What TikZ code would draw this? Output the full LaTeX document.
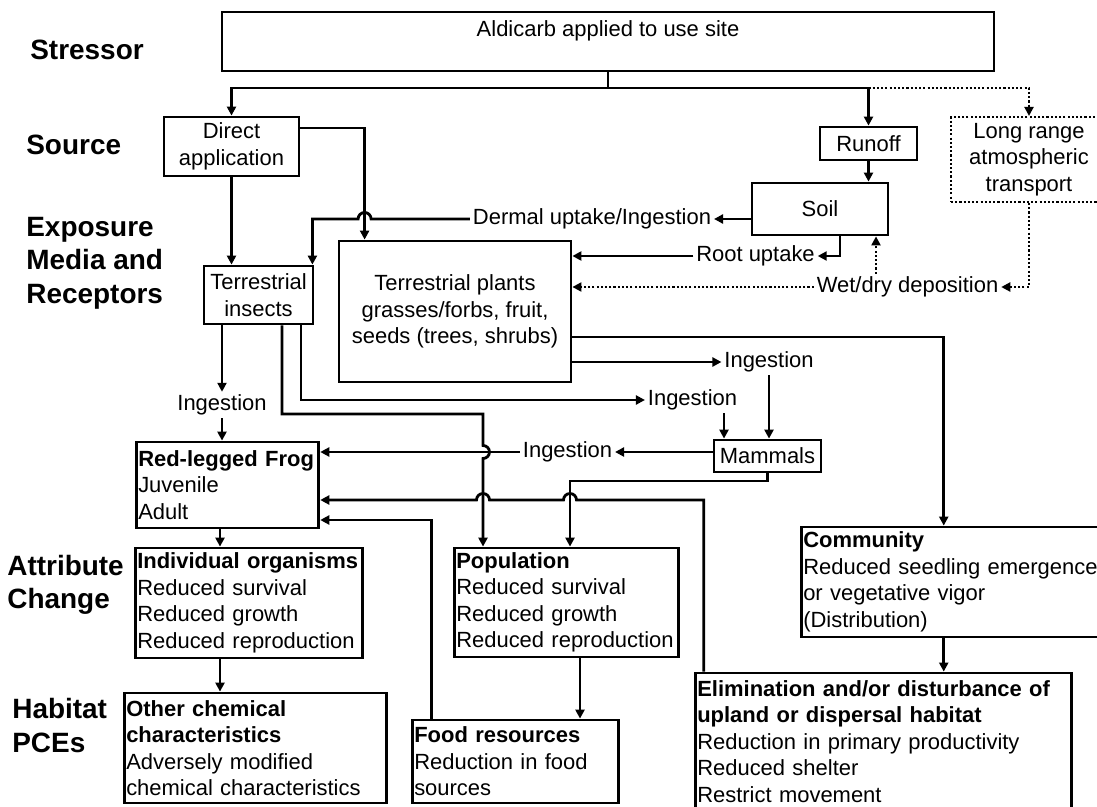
\documentclass[tikz,border=0pt]{standalone}
\usepackage{fontspec}
\setmainfont{Liberation Sans}
\usetikzlibrary{arrows.meta}
\tikzset{
  box/.style={draw, line width=1.6pt, inner xsep=1.2pt, inner ysep=1pt,
    font=\fontsize{12.5}{15.1}\selectfont, align=center},
  lbox/.style={box, align=left},
  dbox/.style={box, line width=1.2pt, dash pattern=on 1.2pt off 1.2pt},
  lab/.style={inner sep=1.5pt, font=\fontsize{12.5}{15.1}\selectfont},
  lvl/.style={inner sep=0pt, align=left, font=\fontsize{15.9}{19}\selectfont\bfseries},
  ln/.style={line width=1.6pt},
  arr/.style={line width=1.6pt, -{Triangle[length=0.18cm, width=0.18cm]}},
  dotarr/.style={line width=1.2pt, dash pattern=on 1.2pt off 1.2pt,
    -{Triangle[length=0.18cm, width=0.18cm]}}
}

\begin{document}
\begin{tikzpicture}
\useasboundingbox (0,0) rectangle (21.94,-16.14);
\clip (0,0) rectangle (21.94,-16.14);

% Level labels
\node[lvl, anchor=west] (lstress) at (0.60,-1.00) {Stressor};
\node[lvl, anchor=west] (lsource) at (0.52,-2.90) {Source};
\node[lvl, anchor=west] (lexpo) at (0.52,-5.26) {Exposure\\Media and\\Receptors};
\node[lvl, anchor=west] (lattr) at (0.14,-11.70) {Attribute\\Change};
\node[lvl, anchor=west] (lhab) at (0.24,-14.51) {Habitat\\PCEs};

% Boxes
\node[box, minimum width=15.44cm, minimum height=1.18cm] (stressor) at (12.16,-0.83)
  {Aldicarb applied to use site\\\mbox{}};
\node[box, minimum width=2.70cm, minimum height=1.18cm] (direct) at (4.63,-2.93) {Direct\\application};
\node[box, minimum width=1.94cm, minimum height=0.66cm] (runoff) at (17.37,-2.87) {Runoff};
\node[dbox, minimum width=3.12cm, minimum height=1.70cm] (longrange) at (20.58,-3.19)
  {Long range\\atmospheric\\transport};
\node[box, minimum width=2.72cm, minimum height=1.04cm] (soil) at (16.40,-4.18) {Soil};
\node[box, minimum width=2.18cm, minimum height=1.16cm] (insects) at (5.17,-5.90) {Terrestrial\\insects};
\node[box, minimum width=4.64cm, minimum height=2.82cm] (plants) at (9.10,-6.23)
  {Terrestrial plants\\grasses/forbs, fruit,\\seeds (trees, shrubs)};
\node[box, minimum width=2.14cm, minimum height=0.64cm] (mammals) at (15.35,-9.12) {Mammals};
\node[lbox, text width=3.57cm, minimum height=1.72cm] (frog) at (4.55,-9.70)
  {\textbf{Red-legged Frog}\\Juvenile\\Adult};
\node[lbox, text width=4.47cm, minimum height=2.20cm] (individual) at (4.98,-12.06)
  {\textbf{Individual organisms}\\Reduced survival\\Reduced growth\\Reduced reproduction};
\node[lbox, text width=4.41cm, minimum height=2.18cm] (population) at (11.33,-12.05)
  {\textbf{Population}\\Reduced survival\\Reduced growth\\Reduced reproduction};
\node[lbox, text width=6.31cm, minimum height=2.20cm] (community) at (19.22,-11.64)
  {\textbf{Community}\\Reduced seedling emergence\\or vegetative vigor\\(Distribution)};
\node[lbox, text width=5.17cm, minimum height=2.20cm] (otherchem) at (5.11,-14.96)
  {\textbf{Other chemical}\\\textbf{characteristics}\\Adversely modified\\chemical characteristics};
\node[lbox, text width=4.05cm, minimum height=1.66cm] (food) at (10.31,-15.23)
  {\textbf{Food resources}\\Reduction in food\\sources};
\node[lbox, text width=7.45cm, minimum height=2.74cm] (elim) at (17.67,-14.83)
  {\textbf{Elimination and/or disturbance of}\\\textbf{upland or dispersal habitat}\\Reduction in primary productivity\\Reduced shelter\\Restrict movement};

% Route labels
\node[lab] (dermal) at (11.84,-4.38) {Dermal uptake/Ingestion};
\node[lab] (root) at (15.11,-5.12) {Root uptake};
\node[lab] (wet) at (18.15,-5.74) {Wet/dry deposition};
\node[lab] (ingA) at (15.38,-7.24) {Ingestion};
\node[lab] (ingB) at (13.85,-8.00) {Ingestion};
\node[lab] (ingC) at (4.44,-8.10) {Ingestion};
\node[lab] (ingD) at (11.35,-9.04) {Ingestion};

% Helper points
\coordinate (jn) at (12.16,-1.76);
\coordinate (pv) at ([xshift=0.54cm]plants.north west);
\coordinate (dhop) at (pv |- dermal.west);
\coordinate (ti) at ([xshift=-0.04cm]insects.north east);
\coordinate (wu) at ([xshift=-0.63cm]wet.north);
\coordinate (cv) at ([xshift=2.88cm]community.north west);
\coordinate (tb) at ([xshift=0.85cm]insects.south);
\coordinate (bm) at ([xshift=0.63cm]ingB.south);
\coordinate (tp) at ([xshift=0.47cm]insects.south);
\coordinate (pa) at ([xshift=-1.67cm]population.north);
\coordinate (pb) at ([xshift=0.07cm]population.north);
\coordinate (h1) at (pb |- 0,-10.00);
\coordinate (h2) at (pa |- 0,-10.00);
\coordinate (ev) at ([xshift=0.20cm]elim.north west);
\coordinate (fv) at ([xshift=0.42cm]food.north west);
\coordinate (fs) at ([xshift=-0.15cm]frog.south);
\coordinate (ps) at ([xshift=0.27cm]population.south);

% Stressor to sources
\draw[ln] (stressor.south) -- (jn);
\draw[arr] (jn) -| (direct.north);
\draw[arr] (jn) -| (runoff.north);
\draw[dotarr] (runoff.north |- jn) -| (longrange.north);
\draw[arr] (runoff.south) -- (runoff.south |- soil.north);

% Sources to receptors
\draw[arr] (direct.south) -- (direct.south |- insects.north);
\draw[arr] ([yshift=0.37cm]direct.east) -| (pv);
\draw[arr] (dermal.east -| soil.west) -- (dermal.east);
\draw[arr] (dermal.west) -- ([xshift=0.13cm]dhop)
  arc[start angle=0, end angle=180, radius=0.13cm] -| (ti);
\draw[arr] ([xshift=0.40cm]soil.south) |- (root.east);
\draw[arr] (root.west) -- (root.west -| plants.east);
\draw[dotarr] (longrange.south) |- (wet.east);
\draw[dotarr] (wet.west) -- (wet.west -| plants.east);
\draw[dotarr] (wu) -- (wu |- soil.south);

% Receptors to frog and mammals
\draw[arr] ([yshift=-0.51cm]plants.east) -| (cv);
\draw[arr] (ingA.west -| plants.east) -- (ingA.west);
\draw[arr] (ingA.south) -- (ingA.south |- mammals.north);
\draw[arr] (tb) |- (ingB.west);
\draw[arr] (bm) -- (bm |- mammals.north);
\draw[arr] (ingC.north |- insects.south) -- (ingC.north);
\draw[arr] (ingC.south) -- (ingC.south |- frog.north);
\draw[arr] (tp) |- (pa |- 0,-8.28) -- (pa |- 0,-8.91)
  arc[start angle=90, end angle=-90, radius=0.13cm] -- (pa);
\draw[arr] (mammals.west |- ingD.east) -- (ingD.east);
\draw[arr] (ingD.west) -- (ingD.west -| frog.east);
\draw[arr] (mammals.south) -- (mammals.south |- 0,-9.62) -| (pb);
\draw[arr] (ev) |- ([xshift=0.13cm]h1)
  arc[start angle=0, end angle=180, radius=0.13cm] -- ([xshift=0.13cm]h2)
  arc[start angle=0, end angle=180, radius=0.13cm] -- (h2 -| frog.east);
\draw[arr] (fv) |- (frog.east |- 0,-10.40);

% Attribute change to habitat
\draw[arr] (fs) -- (fs |- individual.north);
\draw[arr] (fs |- individual.south) -- (fs |- otherchem.north);
\draw[arr] (ps) -- (ps |- food.north);
\draw[arr] (cv |- community.south) -- (cv |- elim.north);
\end{tikzpicture}
\end{document}
